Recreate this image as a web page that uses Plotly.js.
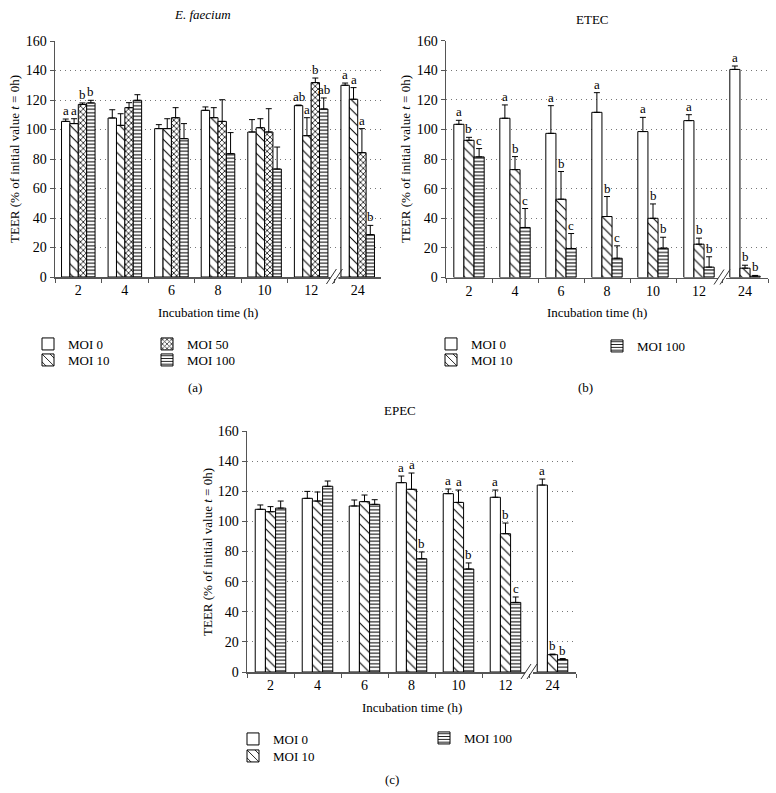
<!DOCTYPE html>
<html>
<head>
<meta charset="utf-8">
<script src="https://cdn.plot.ly/plotly-3.0.1.min.js"></script>
<style>html,body{margin:0;padding:0;background:#fff;}#chart{width:776px;height:793px;}</style>
</head>
<body>
<div id="chart"></div>
<script>
// ---------- DATA ----------
const times = ['2', '4', '6', '8', '10', '12', '24'];
const seriesNames4 = ['MOI 0', 'MOI 10', 'MOI 50', 'MOI 100'];
const seriesNames3 = ['MOI 0', 'MOI 10', 'MOI 100'];

// (a) E. faecium
const efMoi0 = [105.5, 107.8, 100.6, 113.0, 98.3, 116.2, 130.0];
const efMoi0Err = [1.6, 5.6, 2.7, 2.3, 8.4, 0.4, 1.5];
const efMoi10 = [104.0, 102.8, 100.6, 108.0, 101.2, 95.8, 120.5];
const efMoi10Err = [3.3, 7.9, 6.7, 6.8, 6.1, 12.2, 7.9];
const efMoi50 = [117.0, 114.8, 108.0, 105.5, 98.3, 131.8, 84.3];
const efMoi50Err = [1.0, 3.4, 6.8, 14.7, 15.8, 3.1, 16.3];
const efMoi100 = [118.0, 119.8, 93.8, 83.6, 73.2, 113.9, 28.7];
const efMoi100Err = [1.8, 3.8, 10.2, 14.3, 14.9, 7.5, 6.3];
const efLet0 = ['a', '', '', '', '', 'ab', 'a'];
const efLet10 = ['a', '', '', '', '', 'a', 'a'];
const efLet50 = ['b', '', '', '', '', 'b', 'a'];
const efLet100 = ['b', '', '', '', '', 'ab', 'b'];

// (b) ETEC
const etMoi0 = [103.5, 107.6, 97.4, 111.6, 98.6, 106.0, 140.6];
const etMoi0Err = [2.7, 9.0, 18.7, 13.3, 9.6, 4.0, 2.3];
const etMoi10 = [92.7, 72.9, 52.9, 41.2, 40.0, 22.5, 6.3];
const etMoi10Err = [2.0, 8.8, 18.7, 13.5, 9.7, 4.1, 2.0];
const etMoi100 = [81.5, 33.8, 19.6, 13.0, 19.8, 7.0, 0.9];
const etMoi100Err = [5.6, 12.8, 10.1, 8.4, 7.4, 7.0, 0.5];
const etLet0 = ['a', 'a', 'a', 'a', 'a', 'a', 'a'];
const etLet10 = ['b', 'b', 'b', 'b', 'b', 'b', 'b'];
const etLet100 = ['c', 'c', 'c', 'c', 'b', 'b', 'b'];

// (c) EPEC
const epMoi0 = [108.0, 115.3, 110.2, 125.7, 118.4, 116.0, 124.1];
const epMoi0Err = [2.9, 4.6, 4.0, 4.4, 3.1, 4.8, 4.0];
const epMoi10 = [106.4, 113.5, 113.1, 121.3, 112.6, 91.8, 11.5];
const epMoi10Err = [3.4, 6.0, 4.4, 10.8, 8.2, 7.1, 0.4];
const epMoi100 = [108.8, 123.3, 111.3, 75.2, 68.4, 46.2, 8.2];
const epMoi100Err = [4.7, 3.5, 3.1, 4.5, 4.0, 3.6, 0.7];
const epLet0 = ['', '', '', 'a', 'a', 'a', 'a'];
const epLet10 = ['', '', '', 'a', 'a', 'b', 'b'];
const epLet100 = ['', '', '', 'b', 'b', 'c', 'b'];

const yTicks = [0, 20, 40, 60, 80, 100, 120, 140, 160];

// ---------- STYLE / LAYOUT HELPERS ----------
const W = 776, H = 793;
const FONT = 'Liberation Serif';
const px = v => v / W;
const py = v => 1 - v / H;

const patterns = {
  'MOI 0': {shape: ''},
  'MOI 10': {shape: '\\', size: 7, solidity: 0.15, fgcolor: '#000', bgcolor: '#fff'},
  'MOI 50': {shape: 'x', size: 4, solidity: 0.4, fgcolor: '#222', bgcolor: '#fff'},
  'MOI 100': {shape: '-', size: 3.5, solidity: 0.3, fgcolor: '#000', bgcolor: '#fff'}
};

const panels = [
  {xa: 'x', ya: 'y', gap: 0.28, xd: [55, 381], yd: [277, 41],
   names: seriesNames4,
   vals: [efMoi0, efMoi10, efMoi50, efMoi100],
   errs: [efMoi0Err, efMoi10Err, efMoi50Err, efMoi100Err],
   lets: [efLet0, efLet10, efLet50, efLet100],
   legendPos: [[48, 344], [48, 360], [167, 344], [167, 360]]},
  {xa: 'x2', ya: 'y2', gap: 0.34, xd: [446, 768], yd: [277.5, 40.7],
   names: seriesNames3,
   vals: [etMoi0, etMoi10, etMoi100],
   errs: [etMoi0Err, etMoi10Err, etMoi100Err],
   lets: [etLet0, etLet10, etLet100],
   legendPos: [[451, 344], [451, 360], [617, 346]]},
  {xa: 'x3', ya: 'y3', gap: 0.35, xd: [247, 576], yd: [672, 431],
   names: seriesNames3,
   vals: [epMoi0, epMoi10, epMoi100],
   errs: [epMoi0Err, epMoi10Err, epMoi100Err],
   lets: [epLet0, epLet10, epLet100],
   legendPos: [[253, 739], [253, 756], [444, 738]]}
];

const traces = [];
const annotations = [];
const shapes = [];
const layout = {
  width: W, height: H,
  margin: {l: 0, r: 0, t: 0, b: 0},
  paper_bgcolor: '#fff', plot_bgcolor: '#fff',
  barmode: 'overlay',
  font: {family: FONT, size: 13, color: '#000'},
  showlegend: true
};

let legendCount = 0;
panels.forEach((p, pi) => {
  const n = p.names.length;
  const w = (1 - p.gap) / n;
  const sfx = pi === 0 ? '' : String(pi + 1);
  layout['xaxis' + sfx] = {
    domain: [px(p.xd[0]), px(p.xd[1])], anchor: p.ya,
    type: 'category', range: [-0.5, times.length - 0.5],
    showline: true, linecolor: '#555', linewidth: 1.5,
    ticks: 'outside', tickson: 'boundaries', ticklen: 4, tickcolor: '#555', tickwidth: 1,
    showgrid: false, zeroline: false, fixedrange: true,
    tickfont: {family: FONT, size: 14, color: '#000'}
  };
  layout['yaxis' + sfx] = {
    domain: [py(p.yd[0]), py(p.yd[1])], anchor: p.xa,
    range: [0, 160], tickvals: yTicks,
    showline: true, linecolor: '#555', linewidth: 1.5,
    ticks: 'outside', ticklen: 4, tickcolor: '#555', tickwidth: 1,
    showgrid: true, gridcolor: '#777', gridwidth: 1, griddash: '1px,4px',
    zeroline: false, fixedrange: true,
    tickfont: {family: FONT, size: 14, color: '#000'}
  };
  p.names.forEach((name, i) => {
    legendCount += 1;
    const lid = legendCount === 1 ? 'legend' : 'legend' + legendCount;
    const off = -(1 - p.gap) / 2 + w * i;
    traces.push({
      type: 'bar', name: name, x: times, y: p.vals[i],
      xaxis: p.xa, yaxis: p.ya, legend: lid,
      width: w, offset: off,
      marker: {color: '#fff', line: {color: '#000', width: 1}, pattern: patterns[name]},
      error_y: {type: 'data', symmetric: false, array: p.errs[i],
                arrayminus: p.errs[i].map(() => 0),
                color: '#000', thickness: 1, width: 3},
      hoverinfo: 'skip'
    });
    const lp = p.legendPos[i];
    layout[lid] = {
      x: px(lp[0] - 20), y: py(lp[1]), xanchor: 'left', yanchor: 'middle',
      xref: 'paper', yref: 'paper',
      bgcolor: 'rgba(0,0,0,0)', borderwidth: 0, itemwidth: 30,
      font: {family: FONT, size: 13, color: '#000'},
      itemclick: false, itemdoubleclick: false
    };
    p.lets[i].forEach((t, j) => {
      if (!t) return;
      annotations.push({
        xref: p.xa, yref: p.ya, x: j + off + w / 2, y: p.vals[i][j] + p.errs[i][j],
        text: t, showarrow: false, xanchor: 'center', yanchor: 'bottom', yshift: -1,
        font: {family: FONT, size: 13, color: '#000'}
      });
    });
  });

  // axis break "//" between 12 and 24
  const x0 = p.xd[0], x1 = p.xd[1];
  const bx = x0 + (5.5 + 0.5) / times.length * (x1 - x0);
  const by = p.yd[0];
  shapes.push({type: 'line', xref: 'paper', yref: 'paper',
    x0: px(bx - 4), x1: px(bx + 4), y0: py(by), y1: py(by),
    line: {color: '#fff', width: 4}});
  [-3, 3].forEach(d => {
    shapes.push({type: 'line', xref: 'paper', yref: 'paper',
      x0: px(bx + d - 5), y0: py(by + 7), x1: px(bx + d + 5), y1: py(by - 8),
      line: {color: '#333', width: 1}});
  });
});

const textAnns = [
  {x: 202, y: 15, text: '<i>E. faecium</i>'},
  {x: 592, y: 19, text: 'ETEC'},
  {x: 400, y: 410, text: 'EPEC'},
  {x: 208, y: 312, text: 'Incubation time (h)'},
  {x: 597, y: 312, text: 'Incubation time (h)'},
  {x: 412, y: 707, text: 'Incubation time (h)'},
  {x: 14, y: 159, text: 'TEER (% of initial value <i>t</i> = 0h)', angle: -90},
  {x: 405, y: 159, text: 'TEER (% of initial value <i>t</i> = 0h)', angle: -90},
  {x: 207, y: 552, text: 'TEER (% of initial value <i>t</i> = 0h)', angle: -90},
  {x: 195, y: 387, text: '(a)'},
  {x: 585, y: 387, text: '(b)'},
  {x: 392, y: 779, text: '(c)'}
];
textAnns.forEach(a => annotations.push({
  xref: 'paper', yref: 'paper', x: px(a.x), y: py(a.y), text: a.text,
  showarrow: false, xanchor: 'center', yanchor: 'middle', textangle: a.angle || 0,
  font: {family: FONT, size: 13, color: '#000'}
}));

layout.annotations = annotations;
layout.shapes = shapes;

Plotly.newPlot('chart', traces, layout, {displayModeBar: false, staticPlot: true});
</script>
</body>
</html>
